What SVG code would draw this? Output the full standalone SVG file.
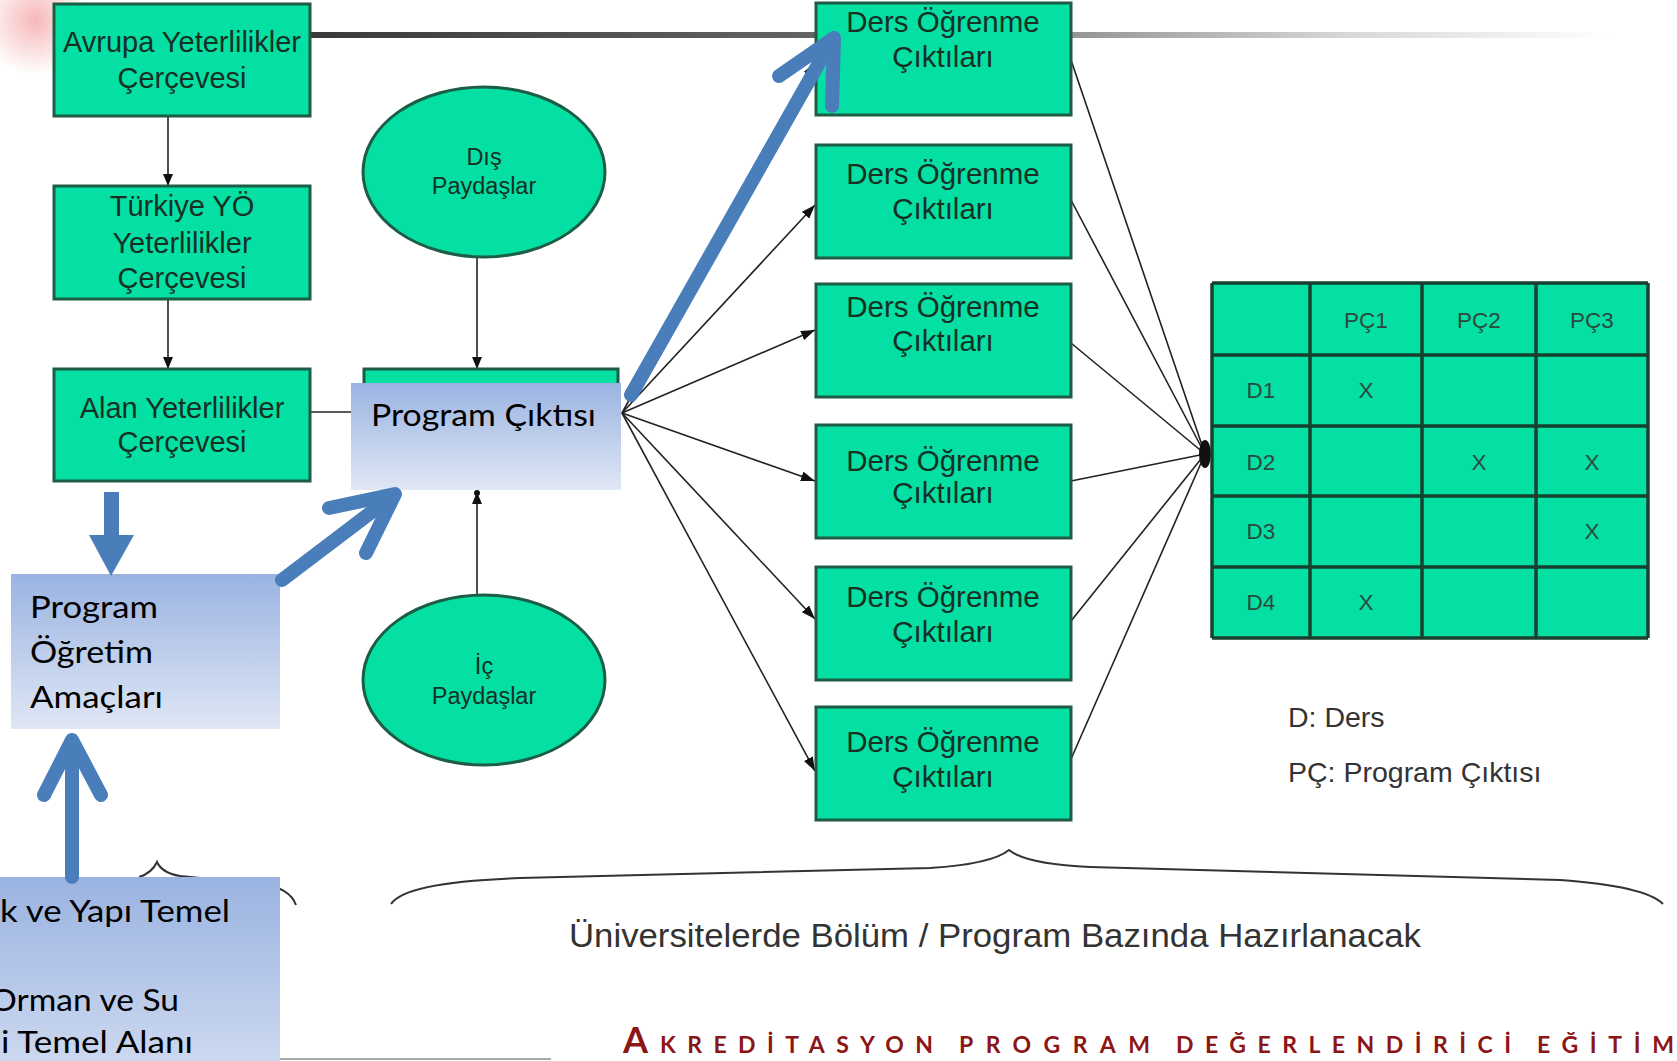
<svg xmlns="http://www.w3.org/2000/svg" width="1677" height="1061" viewBox="0 0 1677 1061">
<defs>
<style>
.g{fill:#04dfa4;stroke:#1d5c45;stroke-width:3}
.gt{font-family:"Liberation Sans",Arial,sans-serif;font-size:29px;fill:#173024;text-anchor:middle}
.dt{font-family:"Liberation Sans",Arial,sans-serif;font-size:29.5px;fill:#173024;text-anchor:middle}
.pt{font-family:"Liberation Sans",Arial,sans-serif;font-size:23.5px;fill:#173024;text-anchor:middle}
.tt{font-family:"Liberation Sans",Arial,sans-serif;font-size:22.5px;fill:#2b4a3e;text-anchor:middle}
.bt{font-family:Lato,"Open Sans",sans-serif;font-size:31px;fill:#000}
.ln{stroke:#222;stroke-width:1.6;fill:none}
.br{stroke:#333;stroke-width:2;fill:none}
.ba{stroke:#4a7ebb;stroke-width:14;fill:none;stroke-linecap:round;stroke-linejoin:round}
.ft{font-family:Lato,"Open Sans",sans-serif;font-weight:700;fill:#8c1515;font-size:23px}
.cap{font-family:"Liberation Sans",Arial,sans-serif;fill:#333}
.tl{stroke:#17402f;stroke-width:3.5}
</style>
<linearGradient id="blue" x1="0" y1="0" x2="0" y2="1">
<stop offset="0" stop-color="#9ab3e1"/>
<stop offset="1" stop-color="#e0e7f5"/>
</linearGradient>
<linearGradient id="gl" gradientUnits="userSpaceOnUse" x1="310" y1="0" x2="1610" y2="0">
<stop offset="0" stop-color="#3a3a3a"/>
<stop offset="0.45" stop-color="#6a6a6a"/>
<stop offset="0.8" stop-color="#d8d8d8"/>
<stop offset="1" stop-color="#fff"/>
</linearGradient>
<radialGradient id="pink" cx="35" cy="20" r="55" gradientUnits="userSpaceOnUse">
<stop offset="0" stop-color="#f08a8a" stop-opacity="0.6"/>
<stop offset="1" stop-color="#f08a8a" stop-opacity="0"/>
</radialGradient>
<marker id="ah" viewBox="0 0 12 10" refX="12" refY="5" markerWidth="12" markerHeight="10" markerUnits="userSpaceOnUse" orient="auto">
<path d="M0,0 L12,5 L0,10 z" fill="#111"/>
</marker>
<marker id="ah2" viewBox="0 0 14 10" refX="14" refY="5" markerWidth="14" markerHeight="10" markerUnits="userSpaceOnUse" orient="auto">
<path d="M0,0 L14,5 L0,10 z" fill="#111"/>
</marker>
</defs>

<rect width="1677" height="1061" fill="#fff"/>
<rect x="0" y="0" width="95" height="85" fill="url(#pink)"/>

<g id="connectors">
<line x1="310" y1="35" x2="1610" y2="35" stroke="url(#gl)" stroke-width="6"/>
<line class="ln" x1="168" y1="116" x2="168" y2="186" marker-end="url(#ah)"/>
<line class="ln" x1="168" y1="299" x2="168" y2="369" marker-end="url(#ah)"/>
<line class="ln" x1="310" y1="412" x2="352" y2="412"/>
<line class="ln" x1="477" y1="257" x2="477" y2="369" marker-end="url(#ah)"/>
<line class="ln" x1="477" y1="595" x2="477" y2="492" marker-end="url(#ah)"/>
<circle cx="477" cy="493" r="3" fill="#111"/>
<line class="ln" x1="622" y1="413" x2="815" y2="62" marker-end="url(#ah2)"/>
<line class="ln" x1="622" y1="413" x2="815" y2="205" marker-end="url(#ah2)"/>
<line class="ln" x1="622" y1="413" x2="815" y2="330" marker-end="url(#ah2)"/>
<line class="ln" x1="622" y1="413" x2="815" y2="481" marker-end="url(#ah2)"/>
<line class="ln" x1="622" y1="413" x2="815" y2="619" marker-end="url(#ah2)"/>
<line class="ln" x1="622" y1="413" x2="815" y2="771" marker-end="url(#ah2)"/>
<line class="ln" x1="1071" y1="60" x2="1205" y2="454"/>
<line class="ln" x1="1071" y1="200" x2="1205" y2="454"/>
<line class="ln" x1="1071" y1="343" x2="1205" y2="454"/>
<line class="ln" x1="1071" y1="481" x2="1205" y2="454"/>
<line class="ln" x1="1071" y1="621" x2="1205" y2="454"/>
<line class="ln" x1="1071" y1="759" x2="1205" y2="454"/>
<ellipse cx="1205" cy="454" rx="6" ry="14" fill="#111"/>
<path class="br" d="M391,904 Q405,882 520,878 L930,868 Q992,864 1009,850 Q1026,864 1090,867 L1560,880 Q1645,886 1663,904"/>
<path class="br" d="M139,877 Q152,873 157,862 Q162,873 180,876 L262,884 Q290,888 296,905"/>
</g>

<g id="avrupa">
<rect class="g" x="54" y="4" width="256" height="112"/>
<text class="gt" x="182" y="52">Avrupa Yeterlilikler</text>
<text class="gt" x="182" y="88">Çerçevesi</text>
</g>
<g id="turkiye">
<rect class="g" x="54" y="186" width="256" height="113"/>
<text class="gt" x="182" y="216">Türkiye YÖ</text>
<text class="gt" x="182" y="253">Yeterlilikler</text>
<text class="gt" x="182" y="288">Çerçevesi</text>
</g>
<g id="alan">
<rect class="g" x="54" y="369" width="256" height="112"/>
<text class="gt" x="182" y="418">Alan Yeterlilikler</text>
<text class="gt" x="182" y="452">Çerçevesi</text>
</g>
<g id="dis">
<ellipse class="g" cx="484" cy="172" rx="121" ry="85"/>
<text class="pt" x="484" y="165">Dış</text>
<text class="pt" x="484" y="194">Paydaşlar</text>
</g>
<g id="ic">
<ellipse class="g" cx="484" cy="680" rx="121" ry="85"/>
<text class="pt" x="484" y="674">İç</text>
<text class="pt" x="484" y="704">Paydaşlar</text>
</g>
<g id="pc-green">
<rect class="g" x="364" y="369" width="254" height="112"/>
</g>

<g id="ders1">
<rect class="g" x="816" y="3" width="255" height="112"/>
<text class="dt" x="943" y="32">Ders Öğrenme</text>
<text class="dt" x="943" y="67">Çıktıları</text>
</g>
<g id="ders2">
<rect class="g" x="816" y="145" width="255" height="113"/>
<text class="dt" x="943" y="184">Ders Öğrenme</text>
<text class="dt" x="943" y="219">Çıktıları</text>
</g>
<g id="ders3">
<rect class="g" x="816" y="284" width="255" height="113"/>
<text class="dt" x="943" y="317">Ders Öğrenme</text>
<text class="dt" x="943" y="351">Çıktıları</text>
</g>
<g id="ders4">
<rect class="g" x="816" y="425" width="255" height="113"/>
<text class="dt" x="943" y="471">Ders Öğrenme</text>
<text class="dt" x="943" y="503">Çıktıları</text>
</g>
<g id="ders5">
<rect class="g" x="816" y="567" width="255" height="113"/>
<text class="dt" x="943" y="607">Ders Öğrenme</text>
<text class="dt" x="943" y="642">Çıktıları</text>
</g>
<g id="ders6">
<rect class="g" x="816" y="707" width="255" height="113"/>
<text class="dt" x="943" y="752">Ders Öğrenme</text>
<text class="dt" x="943" y="787">Çıktıları</text>
</g>

<g id="table">
<rect x="1212" y="283" width="436" height="355" fill="#04dfa4"/>
<line class="tl" x1="1212" y1="283" x2="1648" y2="283"/>
<line class="tl" x1="1212" y1="355" x2="1648" y2="355"/>
<line class="tl" x1="1212" y1="426" x2="1648" y2="426"/>
<line class="tl" x1="1212" y1="496" x2="1648" y2="496"/>
<line class="tl" x1="1212" y1="567" x2="1648" y2="567"/>
<line class="tl" x1="1212" y1="638" x2="1648" y2="638"/>
<line class="tl" x1="1212" y1="283" x2="1212" y2="638"/>
<line class="tl" x1="1310" y1="283" x2="1310" y2="638"/>
<line class="tl" x1="1422" y1="283" x2="1422" y2="638"/>
<line class="tl" x1="1536" y1="283" x2="1536" y2="638"/>
<line class="tl" x1="1648" y1="283" x2="1648" y2="638"/>
<text class="tt" x="1366" y="328">PÇ1</text>
<text class="tt" x="1479" y="328">PÇ2</text>
<text class="tt" x="1592" y="328">PÇ3</text>
<text class="tt" x="1261" y="398">D1</text>
<text class="tt" x="1261" y="470">D2</text>
<text class="tt" x="1261" y="539">D3</text>
<text class="tt" x="1261" y="610">D4</text>
<text class="tt" x="1366" y="398">X</text>
<text class="tt" x="1479" y="470">X</text>
<text class="tt" x="1592" y="470">X</text>
<text class="tt" x="1592" y="539">X</text>
<text class="tt" x="1366" y="610">X</text>
</g>

<g id="legend">
<text class="cap" x="1288" y="727" font-size="28.5">D: Ders</text>
<text class="cap" x="1288" y="782" font-size="28.5">PÇ: Program Çıktısı</text>
</g>

<g id="caption">
<text class="cap" x="569" y="947" font-size="33" textLength="852" lengthAdjust="spacingAndGlyphs">Üniversitelerde Bölüm / Program Bazında Hazırlanacak</text>
</g>

<line x1="280" y1="1059" x2="551" y2="1059" stroke="#aaa" stroke-width="2"/>

<g id="program-ciktisi">
<rect x="351" y="383" width="270" height="107" fill="url(#blue)"/>
<text class="bt" x="371" y="426" textLength="225" lengthAdjust="spacingAndGlyphs">Program Çıktısı</text>
</g>
<g id="program-ogretim-amaclari">
<rect x="11" y="574" width="269" height="155" fill="url(#blue)"/>
<text class="bt" x="30" y="618" textLength="128" lengthAdjust="spacingAndGlyphs">Program</text>
<text class="bt" x="30" y="663" textLength="123" lengthAdjust="spacingAndGlyphs">Öğretim</text>
<text class="bt" x="30" y="708" textLength="133" lengthAdjust="spacingAndGlyphs">Amaçları</text>
</g>
<g id="temel-alan">
<rect x="0" y="877" width="280" height="260" fill="url(#blue)"/>
<text class="bt" x="0" y="922" textLength="230" lengthAdjust="spacingAndGlyphs">k ve Yapı Temel</text>
<text class="bt" x="-10" y="1011" textLength="189" lengthAdjust="spacingAndGlyphs">Orman ve Su</text>
<text class="bt" x="1" y="1053" textLength="192" lengthAdjust="spacingAndGlyphs">i Temel Alanı</text>
</g>

<g id="block-arrows">
<polygon points="104,492 119,492 119,535 134,535 111,576 89,535 104,535" fill="#4a7ebb"/>
<line class="ba" x1="72" y1="877" x2="72" y2="742"/>
<polyline class="ba" points="44,795 72,740 101,795"/>
<line class="ba" x1="282" y1="580" x2="394" y2="495"/>
<polyline class="ba" points="329,508 395,494 366,553"/>
<line class="ba" x1="631" y1="395" x2="832" y2="40"/>
<polyline class="ba" points="779,76 834,38 832,106"/>
</g>

<g id="footer">
<text class="ft" x="623" y="1053" style="font-size:36px">A</text>
<text class="ft" x="660" y="1053" textLength="273" lengthAdjust="spacing">KREDİTASYON</text>
<text class="ft" x="959" y="1053" textLength="191" lengthAdjust="spacing">PROGRAM</text>
<text class="ft" x="1176" y="1053" textLength="335" lengthAdjust="spacing">DEĞERLENDİRİCİ</text>
<text class="ft" x="1537" y="1053" textLength="137" lengthAdjust="spacing">EĞİTİM</text>
</g>
</svg>
